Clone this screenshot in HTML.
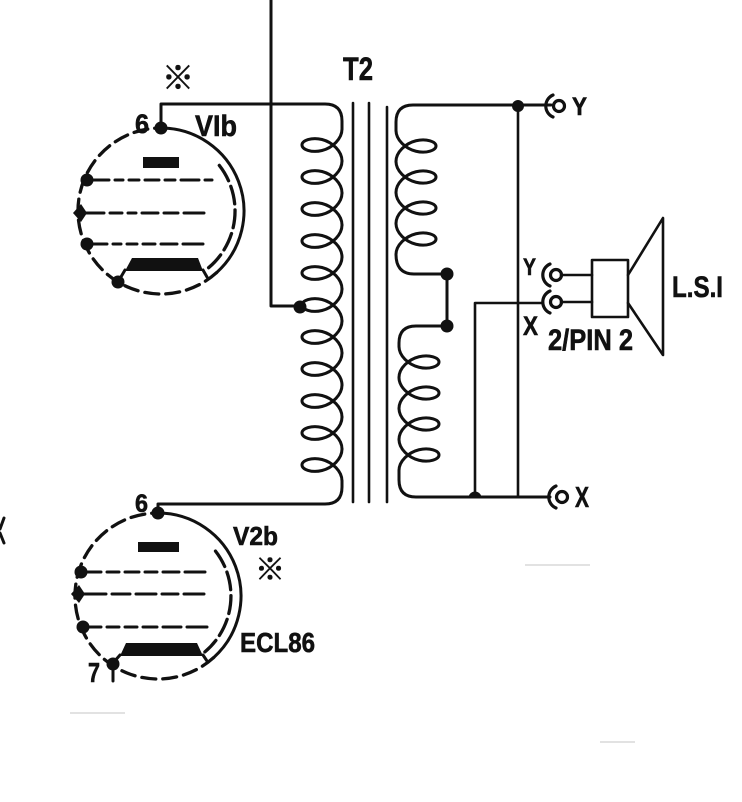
<!DOCTYPE html>
<html><head><meta charset="utf-8"><style>
html,body{margin:0;padding:0;background:#fff;}
svg{display:block;}
text{font-family:"Liberation Sans","DejaVu Sans",sans-serif;font-weight:bold;fill:#111;stroke:#111;stroke-width:0.6;}
.cjk{font-family:"Liberation Sans","Noto Sans CJK JP",sans-serif;}
</style></head><body>
<svg width="742" height="802" viewBox="0 0 742 802" xmlns="http://www.w3.org/2000/svg">
<defs>
<path id="pt" d="M342 -16 C342 -6.27 332.47 2.83 322 5.5 C311.53 8.17 302 4.4 302 0 C302 -4.4 311.53 -8.17 322 -5.5 C332.47 -2.83 342 6.27 342 16"/>
<path id="st" d="M396 -15.5 C396 -6.11 405.53 2.67 416 5.25 C426.47 7.83 436 4.22 436 0 C436 -4.22 426.47 -7.83 416 -5.25 C405.53 -2.67 396 6.11 396 15.5"/>
</defs>
<rect width="742" height="802" fill="#fff"/>

<!-- faint marks -->
<g stroke="#e2e2e2" stroke-width="2" fill="none">
<path d="M70 713 L125 713"/>
<path d="M525 565 L590 565"/>
<path d="M600 742 L635 742"/>
</g>

<g fill="none" stroke="#111" stroke-width="3" stroke-linecap="round" stroke-linejoin="round">
<!-- left partial glyph -->
<path d="M4 518 L0 529 M0 533 L4 543"/>

<!-- top feed wire -->
<path d="M271 0 L271 306 L300 306"/>

<!-- primary winding -->
<path d="M161 128 L161 104 L325 104 Q342 104 342 121 L342 129"/>
<use href="#pt" y="145"/><use href="#pt" y="177"/><use href="#pt" y="209"/><use href="#pt" y="241"/>
<use href="#pt" y="273"/><use href="#pt" y="305"/><use href="#pt" y="337"/><use href="#pt" y="369"/>
<use href="#pt" y="401"/><use href="#pt" y="433"/><use href="#pt" y="465"/>
<path d="M342 481 L342 487 Q342 504 325 504 L158 504 L158 513"/>

<!-- core -->
<path d="M353 103 L353 502 M369 103 L369 502 M387 107 L387 502" stroke-width="2.6"/>

<!-- secondary top half -->
<path d="M551 105 L413 105 Q396 105 396 122 L396 130.5"/>
<use href="#st" y="146"/><use href="#st" y="177"/><use href="#st" y="208"/><use href="#st" y="239"/>
<path d="M396 254.5 C396 265 400 274 414 274 L447 274 L447 326 L416 326 Q399 326 399 343 L399 346.5"/>
<!-- secondary bottom half -->
<g transform="translate(3,0)">
<use href="#st" y="362"/><use href="#st" y="393"/><use href="#st" y="424"/><use href="#st" y="455"/>
</g>
<path d="M399 470.5 L399 480 Q399 497 416 497 L550 497"/>

<!-- right side wiring -->
<path d="M518 105 L518 497" stroke-width="2.6"/>
<path d="M475 497 L475 303 L543 303" stroke-width="2.6"/>
<path d="M561 275 L592 275 M561 302 L592 302" stroke-width="2.6"/>

<!-- connectors -->
<g stroke-width="3.2">
<circle cx="559" cy="106" r="5.5"/>
<path d="M553 95 A12 12 0 0 0 553 117"/>
<circle cx="556" cy="275" r="5.5"/>
<path d="M550 264 A12 12 0 0 0 550 286"/>
<circle cx="556" cy="302" r="5.5"/>
<path d="M550 291 A12 12 0 0 0 550 313"/>
<circle cx="562" cy="497" r="5.5"/>
<path d="M556 486 A12 12 0 0 0 556 508"/>
</g>

<!-- speaker -->
<rect x="592" y="260" width="36" height="57" stroke-width="2.6"/>
<path d="M628 275 L663 218 L663 355 L628 303" stroke-width="2.6"/>

<!-- V1b tube -->
<path d="M161 128 A83 83 0 0 1 216.5 272.7"/>
<path d="M216.5 272.7 A83 83 0 1 1 161 128" stroke-dasharray="14 7" stroke-width="3.3"/>
<path d="M219.3 165.4 A74 74 0 0 1 208.6 267.7" stroke-dasharray="18 6" stroke-width="3.3"/>
<path d="M87 180 L212 180" stroke-dasharray="22 6 8 6 10 6 14 6 10 6 18 6"/>
<path d="M80 213 L220 213" stroke-dasharray="24 6 12 6 8 6 16 6 14 6 20"/>
<path d="M87 244 L217 244" stroke-dasharray="20 6 8 6 10 6 12 6 16 6 20"/>
<path d="M125 270 L118 282 M203 270 L207 277"/>

<!-- V2b tube -->
<path d="M158 513 A83 83 0 0 1 213.5 657.7"/>
<path d="M213.5 657.7 A83 83 0 1 1 158 513" stroke-dasharray="14 7" stroke-width="3.3"/>
<path d="M215.5 551.1 A73 73 0 0 1 204.9 651.9" stroke-dasharray="18 6" stroke-width="3.3"/>
<path d="M81 572 L213 572" stroke-dasharray="20 6 12 6 14 6 12 6 16 6 20"/>
<path d="M78 594 L217 594" stroke-dasharray="28 6 18 6 20 6 16 6 20"/>
<path d="M83 627 L210 627" stroke-dasharray="18 6 12 6 12 6 14 6 18 6 20"/>
<path d="M120 655 L113 663 L113 681 M203 655 L207 661"/>
</g>

<!-- filled shapes -->
<g fill="#111" stroke="none">
<circle cx="161" cy="128" r="6.5"/>
<circle cx="300" cy="307" r="6.5"/>
<circle cx="447" cy="274" r="6.5"/>
<circle cx="447" cy="326" r="6.5"/>
<circle cx="518" cy="106" r="6"/>
<path d="M468.5 498 A6.5 6.5 0 0 1 481.5 498 Z"/>
<!-- V1b -->
<rect x="143" y="157" width="36" height="11"/>
<circle cx="87" cy="180" r="6.5"/>
<path d="M73 213 L81 204 L87 213 L81 222 Z"/>
<circle cx="87" cy="244" r="6.5"/>
<circle cx="118" cy="282" r="6.5"/>
<path d="M125 271 L132 258 L198 258 L203 271 Z"/>
<!-- V2b -->
<circle cx="158" cy="513" r="6.5"/>
<rect x="138" y="542" width="41" height="10"/>
<circle cx="81" cy="572" r="6.5"/>
<path d="M71 594 L79 585 L85 594 L79 603 Z"/>
<circle cx="83" cy="627" r="6.5"/>
<circle cx="113" cy="664" r="6.5"/>
<path d="M120 656 L126 643 L197 643 L203 656 Z"/>
</g>

<!-- labels -->
<text class="cjk" x="178" y="89" font-size="32" text-anchor="middle">※</text>
<text x="135" y="133" font-size="27" textLength="14" lengthAdjust="spacingAndGlyphs">6</text>
<text x="195" y="136" font-size="30" textLength="42" lengthAdjust="spacingAndGlyphs">VIb</text>
<text x="343" y="80" font-size="32" textLength="30" lengthAdjust="spacingAndGlyphs">T2</text>
<text x="572" y="115" font-size="25" textLength="15" lengthAdjust="spacingAndGlyphs">Y</text>
<text x="523" y="275" font-size="24" textLength="13" lengthAdjust="spacingAndGlyphs">Y</text>
<text x="523" y="335" font-size="27" textLength="15" lengthAdjust="spacingAndGlyphs">X</text>
<text x="548" y="350" font-size="30" textLength="85" lengthAdjust="spacingAndGlyphs">2/PIN 2</text>
<text x="672" y="297" font-size="30" textLength="51" lengthAdjust="spacingAndGlyphs">L.S.I</text>
<text x="575" y="507" font-size="29" textLength="14" lengthAdjust="spacingAndGlyphs">X</text>
<text x="135" y="512" font-size="25" textLength="13" lengthAdjust="spacingAndGlyphs">6</text>
<text x="233" y="545" font-size="26" textLength="45" lengthAdjust="spacingAndGlyphs">V2b</text>
<text class="cjk" x="270" y="580" font-size="30" text-anchor="middle">※</text>
<text x="240" y="652" font-size="28" textLength="75" lengthAdjust="spacingAndGlyphs">ECL86</text>
<text x="88" y="682" font-size="28" textLength="12" lengthAdjust="spacingAndGlyphs">7</text>
</svg>
</body></html>
